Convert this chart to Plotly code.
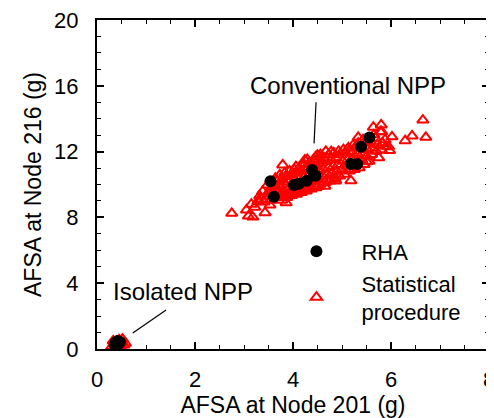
import plotly.graph_objects as go

# Statistical procedure (red open triangles)
stat_x = [
    0.30, 0.35, 0.40, 0.45, 0.50, 0.55, 0.58, 0.38, 0.48, 0.33, 0.52,
    2.75, 3.09, 3.18, 3.43, 3.53, 3.86, 3.79, 3.05, 3.22, 3.28, 3.15,
    3.30, 3.32, 3.38, 3.41, 3.36,
    3.46, 3.52, 3.48, 3.55, 3.50,
    3.58, 3.62, 3.60, 3.66, 3.64,
    3.70, 3.72, 3.68, 3.75, 3.73,
    3.80, 3.82, 3.78, 3.85, 3.83, 3.77,
    3.90, 3.92, 3.88, 3.95, 3.93, 3.87,
    4.00, 4.02, 3.98, 4.05, 4.03, 3.97, 4.06,
    4.10, 4.12, 4.08, 4.15, 4.13, 4.07,
    4.20, 4.22, 4.18, 4.25, 4.23, 4.17, 4.24,
    4.30, 4.32, 4.28, 4.35, 4.33, 4.27,
    4.40, 4.42, 4.38, 4.45, 4.43, 4.37, 4.46,
    4.50, 4.52, 4.48, 4.55, 4.53, 4.47, 4.56,
    4.60, 4.62, 4.58, 4.65, 4.63,
    4.70, 4.72, 4.68, 4.75, 4.73, 4.67,
    4.80, 4.82, 4.78, 4.85, 4.83,
    4.90, 4.92, 4.88, 4.95, 4.93, 4.87,
    5.00, 5.02, 4.98, 5.05, 5.03,
    5.10, 5.12, 5.08, 5.15, 5.13,
    5.20, 5.22, 5.18, 5.25, 5.23,
    5.30, 5.32, 5.28, 5.35, 5.33,
    5.40, 5.42, 5.38, 5.45, 5.43,
    5.50, 5.52, 5.48, 5.55,
    5.60, 5.62, 5.58, 5.65,
    5.70, 5.72, 5.68, 5.75,
    5.80, 5.82, 5.78, 5.90, 5.88,
    4.29, 4.50, 4.78, 5.18, 4.86, 5.33, 5.64, 5.80, 5.81, 5.83, 5.97,
    6.29, 6.43, 6.65, 6.71, 5.50, 4.65, 4.51, 3.67, 6.02, 5.95,
]
stat_y = [
    0.15, 0.30, 0.45, 0.55, 0.40, 0.25, 0.35, 0.10, 0.20, 0.50, 0.60,
    8.25, 8.08, 8.02, 8.29, 8.75, 8.89, 11.19, 8.45, 8.62, 8.95, 8.80,
    9.02, 9.31, 9.58, 8.93, 9.12,
    9.28, 9.61, 9.97, 9.05, 9.44,
    9.41, 9.72, 10.08, 9.20, 10.38,
    9.52, 9.88, 10.21, 9.31, 10.58,
    9.63, 10.02, 10.31, 9.42, 10.71, 9.05,
    9.71, 10.13, 10.49, 9.52, 10.82, 9.21,
    9.82, 10.22, 10.61, 9.51, 10.91, 9.33, 11.09,
    9.91, 10.31, 10.72, 9.62, 11.02, 9.41,
    10.02, 10.41, 10.83, 9.71, 11.21, 9.52, 11.48,
    10.12, 10.52, 10.91, 9.82, 11.31, 9.61,
    10.21, 10.62, 11.02, 9.91, 11.42, 9.72, 11.68,
    10.32, 10.81, 11.12, 10.02, 11.52, 9.81, 11.81,
    10.51, 10.92, 11.31, 10.11, 11.62,
    10.62, 11.02, 11.41, 10.22, 11.81, 12.02,
    10.71, 11.11, 11.52, 10.41, 11.92,
    10.82, 11.21, 11.62, 10.51, 12.01, 10.22,
    10.92, 11.41, 11.81, 10.62, 12.12,
    11.11, 11.52, 11.91, 10.82, 12.22,
    11.21, 11.62, 12.02, 10.91, 12.41,
    11.42, 11.81, 12.22, 11.02, 12.52,
    11.51, 11.92, 12.31, 11.22, 12.72,
    11.72, 12.12, 12.52, 11.42,
    11.82, 12.22, 12.62, 13.02,
    12.02, 12.42, 12.82, 11.62,
    12.12, 12.52, 13.21, 12.32, 12.72,
    11.53, 11.79, 12.00, 10.23, 10.32, 12.87, 13.48, 13.62, 13.21, 12.50, 12.06,
    12.66, 12.95, 13.92, 12.87, 11.39, 9.90, 9.88, 9.67, 12.90, 12.30,
]

# RHA (black filled circles)
rha_x = [0.36, 0.40, 0.44, 0.42, 0.47, 0.38,
         3.54, 3.61, 4.02, 4.12, 4.28, 4.39, 4.46, 5.18, 5.31, 5.39, 5.56]
rha_y = [0.25, 0.38, 0.30, 0.48, 0.42, 0.40,
         10.20, 9.26, 9.97, 10.05, 10.23, 10.88, 10.53, 11.25, 11.25, 12.30, 12.86]

FONT = "Liberation Sans, Arial, sans-serif"

fig = go.Figure()
fig.add_trace(go.Scatter(
    x=stat_x, y=stat_y, mode="markers", name="Statistical<br>procedure",
    legendrank=2,
    marker=dict(symbol="triangle-up-open", size=10, color="#ff0000",
                line=dict(width=2, color="#ff0000")),
))
fig.add_trace(go.Scatter(
    x=rha_x, y=rha_y, mode="markers", name="RHA", legendrank=1,
    marker=dict(symbol="circle", size=12, color="black"),
))

axis_common = dict(
    showline=True, linecolor="black", linewidth=2, mirror="ticks",
    ticks="inside", ticklen=7, tickwidth=1.5, tickcolor="black",
    showgrid=False, zeroline=False, automargin=False,
    ticklabeloverflow="allow",
    tickfont=dict(family=FONT, size=22, color="black"),
)

fig.update_layout(
    width=494, height=418,
    margin=dict(l=89, r=13, t=12, b=77, autoexpand=False),
    paper_bgcolor="white", plot_bgcolor="white",
    font=dict(family=FONT, size=22, color="black"),
    xaxis=dict(range=[0, 8], dtick=2, tick0=0,
               minor=dict(dtick=0.5, ticks="inside", ticklen=4, tickwidth=1.2, tickcolor="black"),
               title=dict(text="AFSA at Node 201 (g)", font=dict(family=FONT, size=23), standoff=0),
               ticklabelstandoff=10, **axis_common),
    yaxis=dict(range=[0, 20], dtick=4, tick0=0,
               minor=dict(dtick=1, ticks="inside", ticklen=4, tickwidth=1.2, tickcolor="black"),
               title=dict(text="AFSA at Node 216 (g)", font=dict(family=FONT, size=23), standoff=6),
               ticklabelstandoff=12, **axis_common),
    showlegend=True,
    legend=dict(x=0.445, y=0.36, xanchor="left", yanchor="top",
                bgcolor="rgba(0,0,0,0)", itemwidth=80, tracegroupgap=6,
                font=dict(family=FONT, size=22, color="black")),
    annotations=[
        dict(x=5.13, y=16.0, xref="x", yref="y", text="Conventional NPP", showarrow=False,
             font=dict(family=FONT, size=24)),
        dict(x=1.76, y=3.47, xref="x", yref="y", text="Isolated NPP", showarrow=False,
             font=dict(family=FONT, size=24)),
    ],
    shapes=[
        dict(type="line", xref="x", yref="y", x0=4.47, y0=15.0, x1=4.43, y1=12.5,
             line=dict(color="black", width=1.2)),
        dict(type="line", xref="x", yref="y", x0=1.41, y0=2.37, x1=0.73, y1=0.97,
             line=dict(color="black", width=1.2)),
    ],
)

fig.write_html("out.html")
